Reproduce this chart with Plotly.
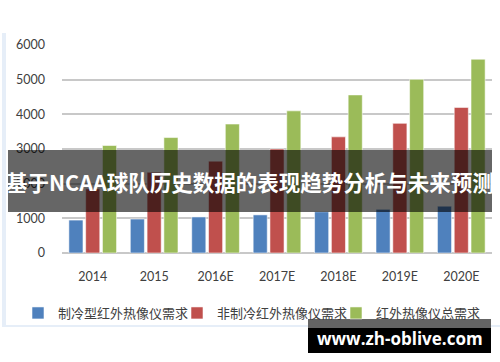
import plotly.graph_objects as go

categories = ["2014", "2015", "2016E", "2017E", "2018E", "2019E", "2020E"]
cooled = [950, 980, 1040, 1100, 1190, 1260, 1350]
uncooled = [1850, 2330, 2650, 3000, 3350, 3740, 4200]
total = [3100, 3330, 3720, 4100, 4560, 5010, 5590]
series_names = ["制冷型红外热像仪需求", "非制冷红外热像仪需求", "红外热像仪总需求"]
y_ticks = [0, 1000, 2000, 3000, 4000, 5000, 6000]
title_text = "基于NCAA球队历史数据的表现趋势分析与未来预测"
watermark = "www.zh-oblive.com"

colors = ["#4f81bd", "#c0504d", "#9bbb59"]

W, H = 500, 362
L, R, T, B = 62, 8, 45, 109
PW, PH = W - L - R, H - T - B


def px(x):
    return (x - L) / PW


def py(y):
    return (H - B - y) / PH


fig = go.Figure()
for name, vals, c in zip(series_names, [cooled, uncooled, total], colors):
    fig.add_trace(go.Bar(
        x=categories, y=vals, name=name,
        marker=dict(color=c, line=dict(color="rgba(255,255,255,0.55)", width=1)),
    ))

shapes = [
    dict(type="rect", xref="paper", yref="paper", x0=px(2), x1=px(6), y0=py(326), y1=py(33),
         fillcolor="#e6eef8", line=dict(width=0), layer="below"),
    dict(type="line", xref="paper", yref="paper", x0=px(2), x1=px(500), y0=py(326), y1=py(326),
         line=dict(color="#e6eef8", width=2), layer="below"),
    dict(type="rect", xref="paper", yref="paper", x0=px(8), x1=px(492), y0=py(212), y1=py(150),
         fillcolor="rgba(0,0,0,0.6)", line=dict(width=0), layer="above"),
    dict(type="rect", xref="paper", yref="paper", x0=px(308), x1=px(491), y0=py(328), y1=py(319),
         fillcolor="#646464", line=dict(width=0), layer="above"),
    dict(type="rect", xref="paper", yref="paper", x0=px(308), x1=px(491), y0=py(353), y1=py(328),
         fillcolor="#000000", line=dict(width=0), layer="above"),
]

annotations = [
    dict(text=title_text, xref="paper", yref="paper", x=px(250), y=py(181),
         xanchor="center", yanchor="middle", showarrow=False,
         font=dict(family="Noto Sans CJK SC", size=21.5, color="white", weight="bold")),
    dict(text=watermark, xref="paper", yref="paper", x=px(399.5), y=py(338),
         xanchor="center", yanchor="middle", showarrow=False,
         font=dict(family="Open Sans", size=17, color="white", weight="bold")),
]

fig.update_layout(
    width=W, height=H,
    margin=dict(l=L, r=R, t=T, b=B, autoexpand=False),
    paper_bgcolor="white", plot_bgcolor="white",
    barmode="group", bargap=0.18, bargroupgap=0.16,
    showlegend=True,
    legend=dict(orientation="h", x=px(18), y=py(313), xanchor="left", yanchor="middle",
                font=dict(family="Noto Sans CJK SC", size=13, color="#404040"),
                itemwidth=30, entrywidth=114, entrywidthmode="pixels",
                bgcolor="rgba(0,0,0,0)"),
    xaxis=dict(showgrid=False, showline=False, ticks="", ticklabelstandoff=14,
               tickfont=dict(family="Lato", size=12.5, color="#404040")),
    yaxis=dict(range=[0, 6000], tickvals=y_ticks, showgrid=True, gridcolor="#c8c8c8", gridwidth=1.5,
               zeroline=True, zerolinecolor="#c8c8c8", zerolinewidth=1.5, showline=False,
               ticks="", ticklabelstandoff=16,
               tickfont=dict(family="Lato", size=12.5, color="#404040")),
    shapes=shapes, annotations=annotations,
)

fig.write_html("out.html", config={"displayModeBar": False},
               post_script="document.body.style.margin='0';document.body.style.overflow='hidden';")
